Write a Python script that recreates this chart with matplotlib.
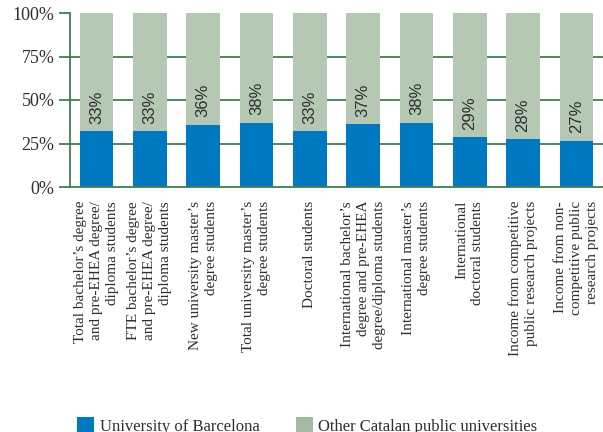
import matplotlib
matplotlib.use("Agg")
import matplotlib.pyplot as plt
from matplotlib.patches import Patch
import numpy as np

categories = [
    "Total bachelor\u2019s degree\nand pre-EHEA degree/\ndiploma students",
    "FTE bachelor\u2019s degree\nand pre-EHEA degree/\ndiploma students",
    "New university master\u2019s\ndegree students",
    "Total university master\u2019s\ndegree students",
    "Doctoral students",
    "International bachelor\u2019s\ndegree and pre-EHEA\ndegree/diploma students",
    "International master\u2019s\ndegree students",
    "International\ndoctoral students",
    "Income from competitive\npublic research projects",
    "Income from non-\ncompetitive public\nresearch projects",
]
ub_share = [32, 32, 35.7, 37, 32, 36, 37, 28.6, 27.4, 26.4]
ub_labels = ["33%", "33%", "36%", "38%", "33%", "37%", "38%", "29%", "28%", "27%"]
series_names = ["University of Barcelona", "Other Catalan public universities"]
yticks = [0, 25, 50, 75, 100]
ytick_labels = ["0%", "25%", "50%", "75%", "100%"]

blue = "#0079c1"
green = "#b5c8b4"
line_green = "#3f7f52"
text_col = "#2e2e2e"
serif = ["Liberation Serif", "DejaVu Serif"]

fig = plt.figure(figsize=(6.03, 4.32), dpi=100)
ax = fig.add_axes([70 / 603, (432 - 187) / 432, 533 / 603, 174 / 432])

x = np.arange(len(categories))
ub = np.array(ub_share)
other = 100 - ub

for yv in [25, 50, 75]:
    ax.axhline(yv, color=line_green, lw=1.3, zorder=0)

ax.bar(x, ub, width=0.63, color=blue, zorder=2)
ax.bar(x, other, bottom=ub, width=0.63, color=green, zorder=2)

for xi, v, lab in zip(x, ub, ub_labels):
    ax.text(xi, v + 14, lab, rotation=90, ha="center", va="center",
            fontsize=12, color=text_col, family=["Liberation Sans", "DejaVu Sans"], zorder=3)

ax.set_xlim(-0.5, len(categories) - 0.5)
ax.set_ylim(0, 100)
ax.set_yticks(yticks)
ax.set_yticklabels(ytick_labels, family=serif, fontsize=13, color=text_col)
ax.tick_params(axis="y", direction="out", length=8, width=1.3, color=line_green, pad=3)
ax.set_xticks(x)
ax.set_xticklabels(categories, rotation=90, family=serif, fontsize=11,
                   color=text_col, ha="center", va="top", multialignment="right",
                   linespacing=1.3)
ax.tick_params(axis="x", length=0, pad=10)

for s in ["top", "right"]:
    ax.spines[s].set_visible(False)
for s in ["left", "bottom"]:
    ax.spines[s].set_color(line_green)
    ax.spines[s].set_linewidth(1.3)

handles = [Patch(facecolor=blue, edgecolor="none"), Patch(facecolor="#a3bba3", edgecolor="none")]
fig.legend(handles, series_names, loc="center left", bbox_to_anchor=(77 / 603, 6 / 432),
           ncol=2, frameon=False, prop={"family": serif, "size": 12},
           handlelength=1.0, handleheight=1.0, handletextpad=0.35, columnspacing=2.2,
           borderpad=0, borderaxespad=0, labelcolor=text_col)

fig.savefig("out.png", dpi=100)
